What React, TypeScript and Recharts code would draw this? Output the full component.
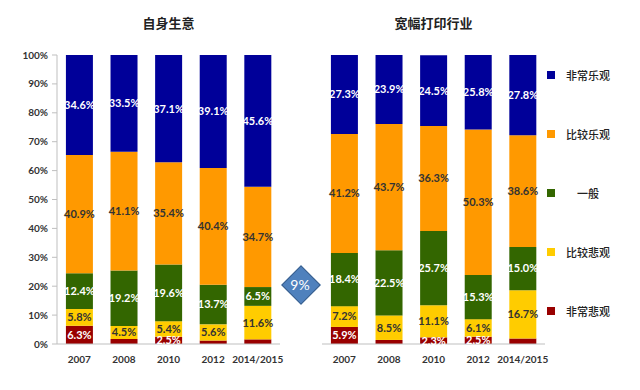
import { Bar, BarChart, LabelList, Legend, XAxis, YAxis } from "recharts";

const years = ["2007", "2008", "2010", "2012", "2014/2015"];
const seriesNames = ["非常悲观", "比较悲观", "一般", "比较乐观", "非常乐观"];
const seriesColors = ["#990000", "#FFCC00", "#336600", "#FF9900", "#000099"];
const labelColors = ["#ffffff", "#333333", "#ffffff", "#333333", "#ffffff"];

// 自身生意
const ownVeryPess = [6.3, 1.7, 2.5, 1.2, 1.6];
const ownPess = [5.8, 4.5, 5.4, 5.6, 11.6];
const ownNeutral = [12.4, 19.2, 19.6, 13.7, 6.5];
const ownOpt = [40.9, 41.1, 35.4, 40.4, 34.7];
const ownVeryOpt = [34.6, 33.5, 37.1, 39.1, 45.6];

// 宽幅打印行业
const indVeryPess = [5.9, 1.4, 2.3, 2.5, 1.9];
const indPess = [7.2, 8.5, 11.1, 6.1, 16.7];
const indNeutral = [18.4, 22.5, 25.7, 15.3, 15.0];
const indOpt = [41.2, 43.7, 36.3, 50.3, 38.6];
const indVeryOpt = [27.3, 23.9, 24.5, 25.8, 27.8];

const yTicks = [0, 10, 20, 30, 40, 50, 60, 70, 80, 90, 100];
const keys = ["s0", "s1", "s2", "s3", "s4"];

const build = (cols: number[][]) =>
  years.map((year, i) => {
    const row: Record<string, string | number> = { year };
    cols.forEach((c, k) => (row[keys[k]] = c[i]));
    return row;
  });

const ownData = build([ownVeryPess, ownPess, ownNeutral, ownOpt, ownVeryOpt]);
const indData = build([indVeryPess, indPess, indNeutral, indOpt, indVeryOpt]);

const FONT = "Lato, 'Noto Sans', sans-serif";
const CJK = "'Noto Sans CJK SC', sans-serif";
const axisGray = "#bfbfbf";

const fmt = (v: any) => (Number(v) >= 2 ? `${Number(v).toFixed(1)}%` : "");

function renderBars() {
  return keys.map((k, i) => (
    <Bar
      key={k}
      dataKey={k}
      name={seriesNames[i]}
      stackId="a"
      fill={seriesColors[i]}
      isAnimationActive={false}
    >
      <LabelList
        dataKey={k}
        position="center"
        formatter={fmt}
        style={{
          fill: labelColors[i],
          fontSize: 11,
          fontWeight: 700,
          fontFamily: FONT,
        }}
      />
    </Bar>
  ));
}

const xTick = { fontSize: 10, fontWeight: 700, fill: "#333", fontFamily: FONT };

function LegendBox() {
  const order = [4, 3, 2, 1, 0];
  return (
    <div style={{ width: 96 }}>
      {order.map((i) => (
        <div
          key={seriesNames[i]}
          style={{ height: 59, display: "flex", alignItems: "flex-start" }}
        >
          <span
            style={{
              width: 8,
              height: 8,
              marginTop: 4,
              background: seriesColors[i],
              display: "inline-block",
            }}
          />
          <span
            style={{
              width: 46,
              marginLeft: 10,
              textAlign: "center",
              fontSize: 11,
              lineHeight: "16px",
              fontFamily: CJK,
              fontWeight: 500,
              color: "#222",
            }}
          >
            {seriesNames[i]}
          </span>
        </div>
      ))}
    </div>
  );
}

const titleStyle = {
  position: "absolute" as const,
  top: 13,
  textAlign: "center" as const,
  fontFamily: CJK,
  fontWeight: 700,
  fontSize: 13,
  color: "#222",
};

export default function App() {
  return (
    <div
      style={{
        position: "absolute",
        left: 0,
        top: 0,
        width: 640,
        height: 390,
        background: "#fff",
      }}
    >
      <div style={{ ...titleStyle, left: 57, width: 223 }}>自身生意</div>
      <div style={{ ...titleStyle, left: 322, width: 223 }}>宽幅打印行业</div>

      <div style={{ position: "absolute", left: 0, top: 0 }}>
        <BarChart
          width={300}
          height={390}
          data={ownData}
          margin={{ top: 55, right: 20, bottom: 16, left: 0 }}
          barCategoryGap="20%"
        >
          <XAxis
            dataKey="year"
            stroke={axisGray}
            tickLine={false}
            tick={xTick}
            tickMargin={6}
            height={30}
          />
          <YAxis
            domain={[0, 100]}
            ticks={yTicks}
            width={57}
            stroke={axisGray}
            tickSize={5}
            tickMargin={4}
            tickFormatter={(v) => `${v}%`}
            tick={xTick}
            interval={0}
          />
          {renderBars()}
        </BarChart>
      </div>

      <div style={{ position: "absolute", left: 322, top: 0 }}>
        <BarChart
          width={318}
          height={390}
          data={indData}
          margin={{ top: 55, right: 95, bottom: 16, left: 0 }}
          barCategoryGap="20%"
        >
          <XAxis
            dataKey="year"
            stroke={axisGray}
            tickLine={false}
            tick={xTick}
            tickMargin={6}
            height={30}
          />
          <YAxis hide domain={[0, 100]} />
          <Legend
            layout="vertical"
            align="center"
            verticalAlign="middle"
            content={LegendBox}
            wrapperStyle={{ left: 225, top: 67, width: 96 }}
          />
          {renderBars()}
        </BarChart>
      </div>

      <div
        style={{
          position: "absolute",
          left: 287,
          top: 271,
          width: 26,
          height: 26,
          background: "#4f81bd",
          border: "1px solid #385d8a",
          transform: "rotate(45deg)",
        }}
      />
      <div
        style={{
          position: "absolute",
          left: 280,
          top: 276,
          width: 40,
          textAlign: "center",
          color: "#fff",
          fontFamily: FONT,
          fontSize: 14,
          lineHeight: "18px",
        }}
      >
        9%
      </div>
    </div>
  );
}
